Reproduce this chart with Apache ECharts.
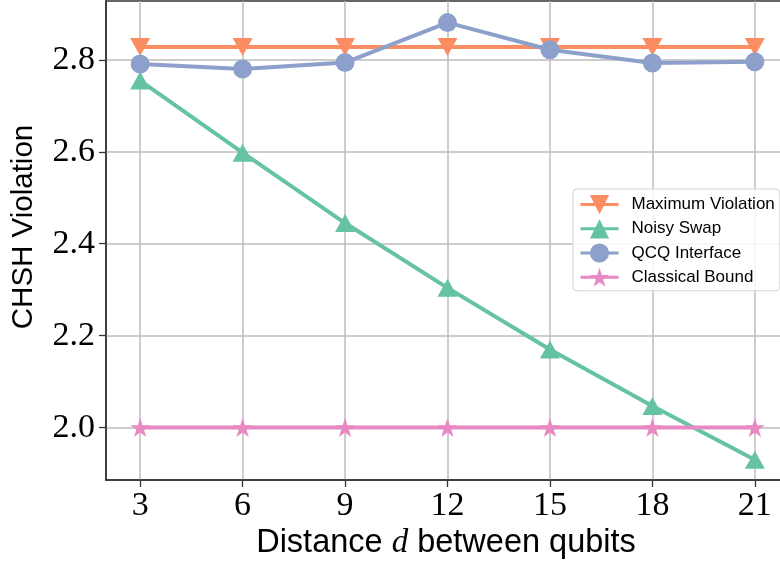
<!DOCTYPE html>
<html><head><meta charset="utf-8">
<script src="https://cdn.jsdelivr.net/npm/echarts@6/dist/echarts.min.js"></script>
<style>html,body{margin:0;padding:0;background:#fff}#c{width:780px;height:565px}</style>
</head><body><div id="c"></div>
<script>
const distances = [3, 6, 9, 12, 15, 18, 21];
const maxViolation = [2.828, 2.828, 2.828, 2.828, 2.828, 2.828, 2.828];
const noisySwap = [2.755, 2.598, 2.445, 2.304, 2.170, 2.047, 1.930];
const qcqInterface = [2.791, 2.780, 2.794, 2.881, 2.822, 2.793, 2.796];
const classicalBound = [2.0, 2.0, 2.0, 2.0, 2.0, 2.0, 2.0];
const xTicks = [3, 6, 9, 12, 15, 18, 21];
const yTicks = [2.0, 2.2, 2.4, 2.6, 2.8];
const seriesNames = ['Maximum Violation', 'Noisy Swap', 'QCQ Interface', 'Classical Bound'];
const xTitle = 'Distance';
const xTitleVar = 'd';
const xTitleEnd = 'between qubits';
const yTitle = 'CHSH Violation';

const colors = ['#fc8d62', '#66c2a5', '#8da0cb', '#e78ac3'];
const star = 'path://M100,0 L122.45,69.1 L195.11,69.1 L136.33,111.8 L158.78,180.9 L100,138.2 L41.22,180.9 L63.67,111.8 L4.89,69.1 L77.55,69.1 Z';

function pairs(vals) { return distances.map((d, i) => [d, vals[i]]); }

const chart = echarts.init(document.getElementById('c'), null, {renderer: 'canvas'});
const tickFont = '"Liberation Serif", "DejaVu Serif", serif';
const sansFont = '"Liberation Sans", "DejaVu Sans", sans-serif';

function mkSeries(name, vals, color, symbol, size, rotate) {
  return {
    name: name, type: 'line', data: pairs(vals),
    symbol: symbol, symbolSize: size, symbolRotate: rotate || 0, symbolKeepAspect: true,
    showSymbol: true, clip: false,
    lineStyle: {color: color, width: 4},
    itemStyle: {color: color, borderWidth: 0, opacity: 1},
    emphasis: {disabled: true},
    animation: false
  };
}

chart.setOption({
  animation: false,
  backgroundColor: '#fff',
  grid: {left: 106, top: 1, width: 683, height: 479, show: true, borderColor: '#333', borderWidth: 1.5, backgroundColor: 'transparent', containLabel: false, outerBoundsMode: 'none'},
  xAxis: {
    type: 'value', min: 2, max: 22,
    axisLine: {show: true, lineStyle: {color: '#333', width: 1.5}},
    axisTick: {show: true, length: 7, lineStyle: {color: '#333', width: 1.3}, customValues: xTicks},
    axisLabel: {customValues: xTicks, color: '#000', fontFamily: tickFont, fontSize: 34, margin: 9,
      formatter: v => String(v)},
    splitLine: {show: true, lineStyle: {color: '#bcbcbc', width: 1.5}}
  },
  yAxis: {
    type: 'value', min: 1.886, max: 2.928,
    axisLine: {show: true, lineStyle: {color: '#333', width: 1.5}},
    axisTick: {show: true, length: 7, lineStyle: {color: '#333', width: 1.3}, customValues: yTicks},
    axisLabel: {customValues: yTicks, color: '#000', fontFamily: tickFont, fontSize: 34, margin: 11,
      formatter: v => Number(v).toFixed(1)},
    splitLine: {show: true, lineStyle: {color: '#bcbcbc', width: 1.5}}
  },
  legend: {
    orient: 'vertical', left: 573, top: 189,
    padding: [6, 5, 4, 6], itemGap: 5, itemWidth: 38, itemHeight: 24,
    backgroundColor: 'rgba(255,255,255,0.85)', borderColor: '#d4d4d4', borderWidth: 1, borderRadius: 4,
    lineStyle: {width: 3},
    textStyle: {fontFamily: sansFont, fontSize: 17, color: '#000', padding: [0, 0, 0, 8]},
    data: seriesNames
  },
  series: [
    mkSeries(seriesNames[0], maxViolation, colors[0], 'triangle', [20, 18], 180),
    mkSeries(seriesNames[1], noisySwap, colors[1], 'triangle', [20, 18], 0),
    mkSeries(seriesNames[2], qcqInterface, colors[2], 'circle', 19, 0),
    mkSeries(seriesNames[3], classicalBound, colors[3], star, 20, 0)
  ],
  graphic: [
    {type: 'text', x: 24, y: 227, rotation: Math.PI / 2,
      style: {text: yTitle, font: '29.5px ' + sansFont, fill: '#000', align: 'center', verticalAlign: 'middle', textAlign: 'center', textVerticalAlign: 'middle'}},
    {type: 'text', x: 446, y: 543,
      style: {text: '{a|' + xTitle + ' }{d|' + xTitleVar + '}{a| ' + xTitleEnd + '}', fill: '#000',
        align: 'center', verticalAlign: 'middle', textAlign: 'center', textVerticalAlign: 'middle',
        rich: {a: {font: '32.5px ' + sansFont, fill: '#000'}, d: {font: 'italic 33px ' + tickFont, fill: '#000'}}}}
  ]
});
</script></body></html>
